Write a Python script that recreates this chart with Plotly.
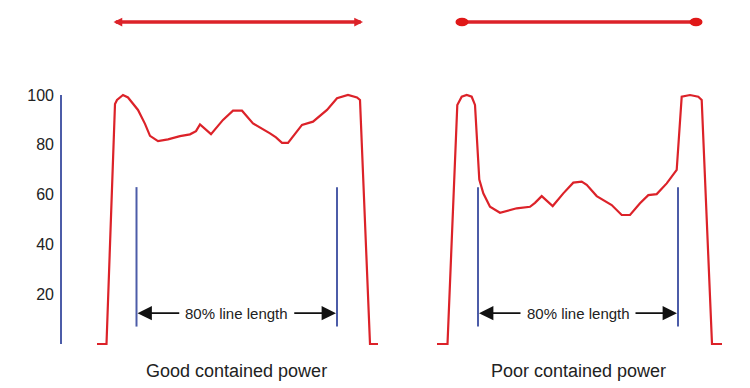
import plotly.graph_objects as go

# Beam power profiles (position along beam, relative power %)
good_pos = [97, 106.5, 115, 117, 123, 128, 138, 145, 150, 158, 168, 180, 190, 196, 200, 211, 223,
            233, 242, 253, 270, 276, 282, 288, 302, 313, 327, 337, 348, 357, 360, 370, 378]
good_power = [0, 0, 96.4, 98, 100, 99, 94, 88.4, 83.6, 81.5, 82.2, 83.5, 84.2, 85.5, 88.2, 84.3, 90,
              93.7, 93.7, 88.6, 84.6, 83, 80.8, 80.8, 88, 89.3, 94, 98.7, 100, 99, 98, 0, 0]

poor_pos = [437, 447.5, 457.3, 461.7, 466.7, 471.7, 475, 476.7, 479.3, 483.3, 490, 500, 516.7, 530,
            535, 541.7, 548.3, 552.7, 563.3, 573.3, 581.7, 586.7, 596.7, 611.7, 621.7, 630, 640,
            648.3, 656.7, 666.7, 676.7, 681.7, 690, 698.3, 701.7, 712, 722]
poor_power = [0, 0, 96, 99.3, 100, 99.3, 96, 82, 66, 60.5, 55.1, 52.7, 54.5, 55.1, 56.7, 59.4, 57.1,
              55.4, 60.5, 64.8, 65.2, 63.9, 59.4, 55.8, 51.8, 51.8, 56.5, 59.8, 60.2, 64.5, 69.9,
              99.3, 100, 99.3, 98, 0, 0]

# 80% line length markers
good_80 = [136.5, 337]
poor_80 = [478, 678]
marker_top = 63
marker_bottom = 7

# Line (beam) extents shown on top
good_line = [112, 363]
poor_line = [462, 696]

y_ticks = [20, 40, 60, 80, 100]
labels = ["Good contained power", "Poor contained power"]

RED = "#dc2229"
BLUE = "#4c5ca8"
TXT = "#222222"
FONT = "Liberation Sans, Arial, sans-serif"

fig = go.Figure()
for xs, ys in [(good_pos, good_power), (poor_pos, poor_power)]:
    fig.add_trace(go.Scatter(x=xs, y=ys, mode="lines", line=dict(color=RED, width=2.2),
                             showlegend=False, hoverinfo="skip"))

shapes = []
# y-axis line from 0 to 100
shapes.append(dict(type="line", xref="paper", x0=0, x1=0, yref="y", y0=0, y1=100,
                   line=dict(color=BLUE, width=2)))
for mk in (good_80, poor_80):
    for xv in mk:
        shapes.append(dict(type="line", xref="x", yref="y", x0=xv, x1=xv,
                           y0=marker_bottom, y1=marker_top, line=dict(color=BLUE, width=2)))

TOP_Y = 129.3
# right top line with dotted ends
shapes.append(dict(type="line", xref="x", yref="y", x0=poor_line[0], x1=poor_line[1],
                   y0=TOP_Y, y1=TOP_Y, line=dict(color=RED, width=3.5)))
for xv in poor_line:
    shapes.append(dict(type="circle", xref="x", yref="y", x0=xv - 6.5, x1=xv + 6.5,
                       y0=TOP_Y - 1.7, y1=TOP_Y + 1.7, fillcolor="#e01818",
                       line=dict(color="#e01818", width=0)))

annotations = []
# top-left double arrow
annotations.append(dict(x=good_line[1], y=TOP_Y, ax=good_line[0], ay=TOP_Y, xref="x", yref="y",
                        axref="x", ayref="y", showarrow=True, arrowside="end+start",
                        arrowhead=2, arrowsize=0.5, arrowwidth=3.5, arrowcolor=RED, text=""))

ARR_Y = 12.4
for (l, r), lab in zip((good_80, poor_80), labels):
    mid = (l + r) / 2
    annotations.append(dict(x=l + 1, y=ARR_Y, ax=mid - 56, ay=ARR_Y, xref="x", yref="y",
                            axref="x", ayref="y", showarrow=True, arrowhead=2, arrowsize=1.6,
                            arrowwidth=1.8, arrowcolor="#111111", text=""))
    annotations.append(dict(x=r - 1, y=ARR_Y, ax=mid + 56, ay=ARR_Y, xref="x", yref="y",
                            axref="x", ayref="y", showarrow=True, arrowhead=2, arrowsize=1.6,
                            arrowwidth=1.8, arrowcolor="#111111", text=""))
    annotations.append(dict(x=mid, y=ARR_Y, xref="x", yref="y", text="80% line length",
                            showarrow=False, font=dict(family=FONT, size=15, color=TXT)))
    annotations.append(dict(x=mid, y=-10.8, xref="x", yref="y", text=lab, showarrow=False,
                            font=dict(family=FONT, size=18, color=TXT)))

# The page body has an 8px margin, so the figure is sized and offset to compensate.
fig.update_layout(
    width=742, height=380,
    margin=dict(l=53, r=0, t=0, b=0, pad=0),
    paper_bgcolor="white", plot_bgcolor="white",
    xaxis=dict(range=[61, 750], visible=False, fixedrange=True),
    yaxis=dict(range=[-17.67, 134.94], tickvals=y_ticks, ticktext=[str(v) for v in y_ticks],
               showgrid=False, zeroline=False, showline=False, ticks="",
               ticklabelstandoff=6, tickfont=dict(family=FONT, size=16, color=TXT),
               fixedrange=True),
    shapes=shapes, annotations=annotations,
)

fig.write_html("out.html")
